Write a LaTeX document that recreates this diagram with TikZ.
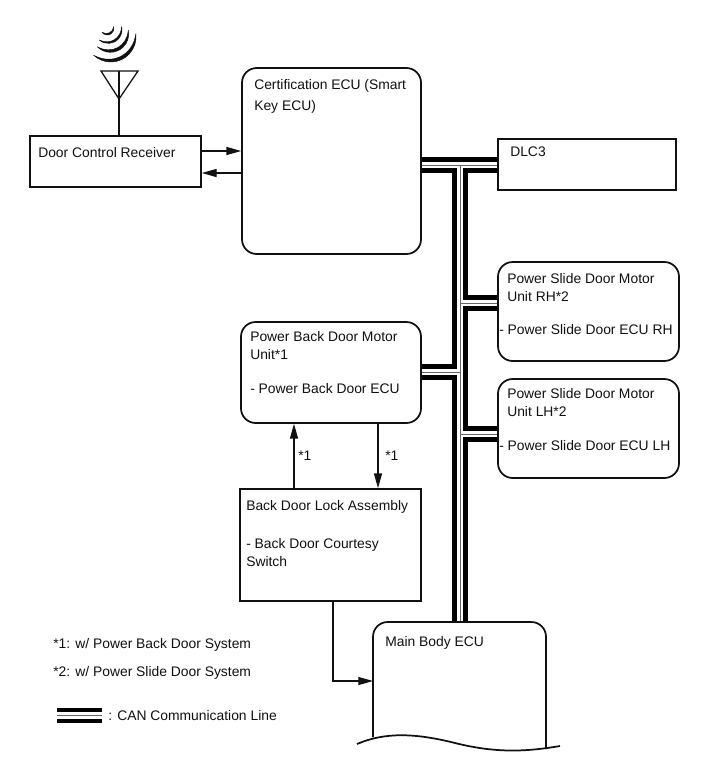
\documentclass[tikz,border=0pt]{standalone}
\usepackage{fontspec}
\setmainfont{Liberation Sans}
\usetikzlibrary{arrows.meta,backgrounds,calc}
\definecolor{ink}{HTML}{111111}
\tikzset{
  px/.style={x=0.75pt,y=-0.75pt},
  boxline/.style={draw=ink,line width=1.3pt,fill=white,inner sep=0pt},
  sqbox/.style={boxline},
  rdbox/.style={boxline,rounded corners=11pt},
  txt/.style={anchor=north west,inner sep=0pt,align=left,text=ink,font=\fontsize{10.4}{13.5}\selectfont},
  arr/.style={draw=ink,line width=0.8pt,-{Triangle[length=11pt,width=6pt]}},
  canblack/.style={draw=black,line width=11.4pt},
  canwhite/.style={draw=white,line width=5pt},
  canthin/.style={draw=black!60,line width=0.6pt},
  ant/.style={draw=ink,line width=0.95pt,line join=miter},
}
\newcommand{\boxat}[7]{% style,name,x1,y1,x2,y2,unused
  \path (#3,#4) -- (#5,#6) node[midway,#1,minimum width={(#5-#3)*0.75pt},minimum height={(#6-#4)*0.75pt}] (#2) {};}
\newcommand{\canroutes}[1]{%
  \draw[#1] (cert.east |- 0,165) -- (dlc.west |- 0,165);
  \draw[#1] (460,165) -- (mb);
  \draw[#1] (460,303) -- (rh.west |- 0,303);
  \draw[#1] (460,434) -- (lh.west |- 0,434);
  \draw[#1] (pbd.east |- 0,372) -- (460,372);
  \draw[#1] (legA) -- (legB);
}
% centre, radius, start angle, end angle, thickness
\newcommand{\crescent}[5]{%
  \pgfmathsetmacro{\crR}{1.328*#2-1.452*#5}
  \pgfmathsetmacro{\crA}{#4+(#3-#4)/3}
  \pgfmathsetmacro{\crB}{#3-(#3-#4)/3}
  \filldraw[ink,line width=0.35pt,line join=round] ($(#1)+(#3:#2)$) arc[start angle=#3,end angle=#4,radius=#2]
     .. controls ($(#1)+(\crA:\crR)$) and ($(#1)+(\crB:\crR)$) .. cycle;}
\begin{document}
\begin{tikzpicture}[px]
\useasboundingbox (0,0) rectangle (713,782);
% boxes as named nodes
\boxat{sqbox}{recv}{30}{136}{201}{187}{}
\boxat{rdbox}{cert}{242}{68}{421}{254}{}
\boxat{sqbox}{dlc}{498}{139}{676}{190}{}
\boxat{rdbox}{rh}{498}{262}{679}{361}{}
\boxat{rdbox}{lh}{498}{379}{679}{478}{}
\boxat{rdbox}{pbd}{241}{322}{421}{423}{}
\boxat{sqbox}{bdl}{240}{489}{421}{601}{}
\coordinate (mb) at (460,622);
\coordinate (mbw) at (373,681);
\coordinate (legA) at (57,715.5);
\coordinate (legB) at (102,715.5);
% CAN bus, drawn in layers so the junctions stay open, behind the boxes
\begin{scope}[on background layer]
\fill[white] (0,0) rectangle (713,782);
\canroutes{canblack}
\canroutes{canwhite}
\canroutes{canthin}
\end{scope}
% Main Body ECU
\draw[draw=ink,line width=1.3pt,rounded corners=11pt] (373,737) -- (373,622) -- (546,622) -- (546,749);
\draw[draw=ink,line width=1.3pt] (357,744) .. controls (385,732) and (415,733) .. (455,743)
   .. controls (495,753) and (525,752) .. (560,746);
% antenna
\draw[ant] (101,71) -- (138,71) -- (119,99) -- cycle;
\draw[ant] (119,71) -- (recv.north -| 119,0);
\crescent{107.3,28.3}{6.7}{143}{-15}{1.3}
\crescent{108.3,29.7}{13.7}{131}{-13}{1.8}
\crescent{110.4,34}{18.3}{136}{-12}{2.4}
\crescent{110.8,36.7}{25.3}{133}{-7}{3.2}
% arrows
\draw[arr] (recv.east |- 0,151) -- (cert.west |- 0,151);
\draw[arr] (cert.west |- 0,173) -- (recv.east |- 0,173);
\draw[arr] (bdl.north -| 294,0) -- (pbd.south -| 294,0);
\draw[arr] (pbd.south -| 378,0) -- (bdl.north -| 378,0);
\draw[arr] (bdl.south -| 333,0) -- (333,681) -- (mbw);
% labels
\node[txt] (t1) at (38,147) {Door Control Receiver};
\node[txt] (t2) at (254,79) {Certification ECU (Smart\\[2.25pt]Key ECU)};
\node[txt] (t3) at (510,147) {DLC3};
\node[txt] (t4) at (507,273) {Power Slide Door Motor\\Unit RH*2\\[11.25pt]\hspace{-6pt}- Power Slide Door ECU RH};
\node[txt] (t5) at (507,388) {Power Slide Door Motor\\Unit LH*2\\[12pt]\hspace{-6pt}- Power Slide Door ECU LH};
\node[txt] (t6) at (250,331) {Power Back Door Motor\\Unit*1\\[12pt]- Power Back Door ECU};
\node[txt] (t7) at (246,500) {Back Door Lock Assembly\\[15pt]- Back Door Courtesy\\Switch};
\node[txt] (t8) at (385,636) {Main Body ECU};
\node[txt] (t9) at (298,451) {*1};
\node[txt] (t10) at (385,451) {*1};
\node[txt] (t11) at (53,638) {*1: w/ Power Back Door System};
\node[txt] (t12) at (53,666) {*2: w/ Power Slide Door System};
\node[txt] (t13) at (108,710) {: CAN Communication Line};
\end{tikzpicture}
\end{document}
